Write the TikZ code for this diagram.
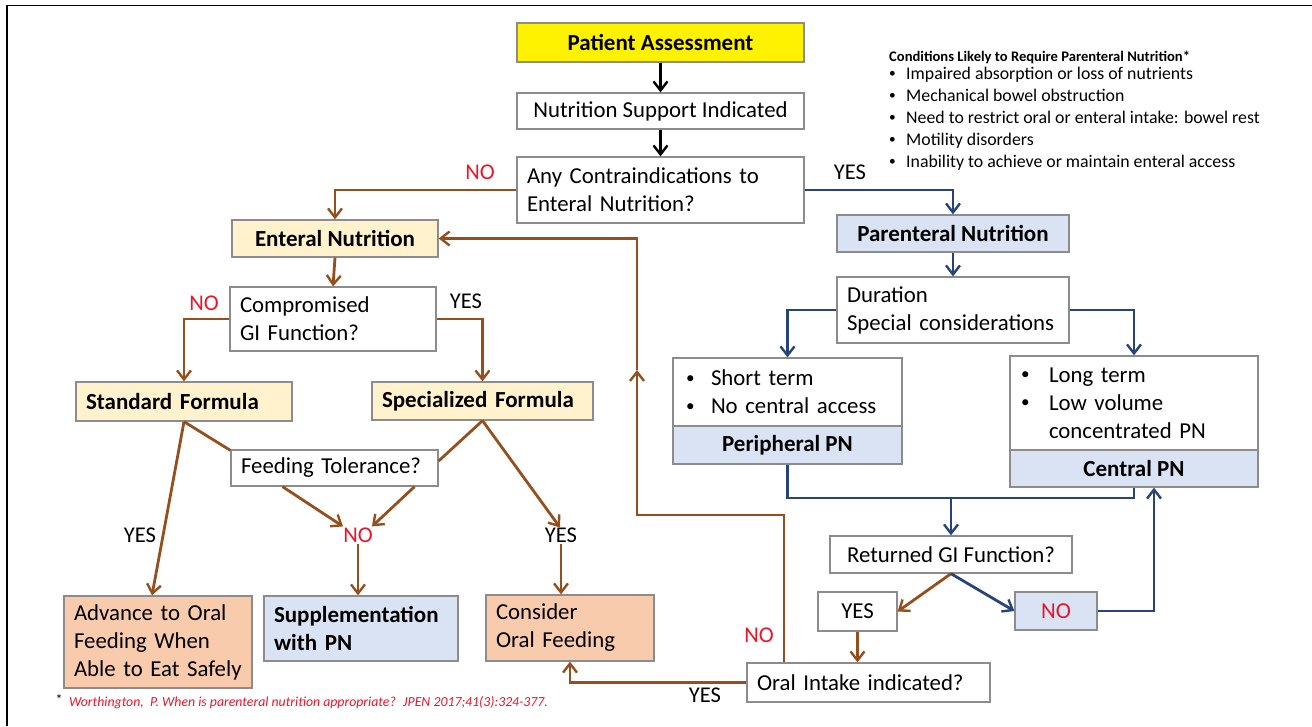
\documentclass[tikz,border=0pt]{standalone}
\usepackage{fontspec}
\setmainfont{Carlito}
\usetikzlibrary{arrows.meta}
\definecolor{brn}{RGB}{150,78,28}
\definecolor{nblue}{RGB}{38,68,122}
\definecolor{bgray}{RGB}{140,140,140}
\definecolor{pblue}{RGB}{218,227,243}
\definecolor{tanfill}{RGB}{255,242,204}
\definecolor{salmon}{RGB}{248,203,173}
\definecolor{nored}{RGB}{235,20,40}
\tikzset{
  box/.style={draw=bgray, line width=1.3pt, inner xsep=10pt, inner ysep=0pt,
    font=\fontsize{22.8}{28}\selectfont, text=black},
  bbox/.style={box, font=\fontsize{23}{28}\selectfont\bfseries},
  lbox/.style 2 args={minimum width=#1, minimum height=#2, text width=#1-20pt, align=left},
  cbox/.style 2 args={minimum width=#1, minimum height=#2, align=center},
  lab/.style={font=\fontsize{22.5}{24}\selectfont, inner sep=1pt},
  nolab/.style={lab, text=nored},
  conn/.style={line width=2.8pt, -{Straight Barb[length=9pt,width=14pt,line width=2.4pt]}},
  plain/.style={line width=2.8pt},
  bk/.style={conn, draw=black},
  br/.style={conn, draw=brn},
  bl/.style={conn, draw=nblue},
}
% small list bullet in a box of given width
\newcommand{\bul}[1]{\makebox[#1][l]{\raisebox{0.1em}{\scalebox{0.75}{\textbullet}}}}
\begin{document}
\begin{tikzpicture}[x=1pt,y=-1pt]
\useasboundingbox (0,0) rectangle (1312,726);
% page frame
\coordinate (fr1) at (7,726);
\coordinate (fr2) at (7,5.5);
\coordinate (fr3) at (1312,5.5);
\draw[line width=1.3pt] (fr1) -- (fr2) -- (fr3);

% main column
\node[bbox, cbox={287pt}{39pt}, fill=yellow] (pa) at (660.5,42.5) {Patient Assessment};
\node[box, cbox={287pt}{36pt}] (nsi) at (660.5,111) {Nutrition Support Indicated};
\node[box, lbox={287pt}{66pt}] (ci) at (660.5,190) {Any Contraindications to\\Enteral Nutrition?};

% enteral side
\node[bbox, cbox={206pt}{37pt}, fill=tanfill] (en) at (335,238.5) {Enteral Nutrition};
\node[box, lbox={206pt}{64pt}] (cgi) at (333,319) {Compromised\\GI Function?};
\node[bbox, lbox={216pt}{39pt}, fill=tanfill] (sf) at (184,401.5) {Standard Formula};
\node[bbox, lbox={221pt}{38pt}, fill=tanfill] (spf) at (482.5,401) {Specialized Formula};
\node[box, lbox={207pt}{36pt}] (ft) at (334.5,468) {Feeding Tolerance?};
\node[box, lbox={188pt}{92pt}, fill=salmon] (adv) at (158,642) {Advance to Oral\\Feeding When\\Able to Eat Safely};
\node[bbox, lbox={194pt}{65pt}, fill=pblue] (sup) at (361,628.5) {Supplementation\\with PN};
\node[box, lbox={168pt}{66pt}, fill=salmon] (cof) at (570,628) {Consider\\Oral Feeding};

% parenteral side
\node[bbox, cbox={232pt}{37pt}, fill=pblue] (pn) at (953,233.5) {Parenteral Nutrition};
\node[box, lbox={232pt}{66pt}] (dur) at (953,310) {Duration\\Special considerations};
\node[box, lbox={229pt}{68pt}, inner xsep=13pt, text width=203pt] (perT) at (787.5,392)
  {\bul{25pt}Short term\\\bul{25pt}No central access};
\node[bbox, cbox={229pt}{38pt}, fill=pblue] (perB) at (787.5,445) {Peripheral PN};
\node[box, lbox={248pt}{94pt}, inner xsep=11pt, text width=226pt] (cenT) at (1134,403)
  {\bul{28pt}Long term\\\bul{28pt}Low volume\\\hspace*{28pt}concentrated PN};
\node[bbox, cbox={248pt}{37pt}, fill=pblue] (cenB) at (1134,468.5) {Central PN};
\node[box, cbox={242pt}{37pt}] (rgi) at (951,554.5) {Returned GI Function?};
\node[box, cbox={79pt}{39pt}] (yb) at (857.5,611.5) {YES};
\node[box, cbox={82pt}{38pt}, fill=pblue, text=nored] (nb) at (1056,611) {NO};
\node[box, lbox={243pt}{39pt}] (oi) at (868.5,682.5) {Oral Intake indicated?};

% conditions list
\node[anchor=west, inner sep=0pt, font=\fontsize{14.6}{15}\selectfont\bfseries] (cond) at (889,57)
  {Conditions Likely to Require Parenteral Nutrition*};
\node[anchor=north west, inner sep=0pt, align=left, font=\fontsize{17.8}{22}\selectfont] (condlist) at (889,67)
  {\bul{17pt}Impaired absorption or loss of nutrients\\
   \bul{17pt}Mechanical bowel obstruction\\
   \bul{17pt}Need to restrict oral or enteral intake: bowel rest\\
   \bul{17pt}Motility disorders\\
   \bul{17pt}Inability to achieve or maintain enteral access};

% footnote
\node[inner sep=0pt, font=\fontsize{14}{14}\selectfont] (star) at (59,700) {*};
\node[anchor=west, inner sep=0pt, text=nored, font=\fontsize{13.8}{15}\selectfont\itshape] (ref) at (69,703)
  {Worthington, \ P. When is parenteral nutrition appropriate? \ JPEN 2017;41(3):324-377.};

% branch labels
\node[nolab] (l1) at (480,172) {NO};
\node[lab] (l2) at (850,172) {YES};
\node[nolab] (l3) at (204,303) {NO};
\node[lab] (l4) at (466,301) {YES};
\node[lab] (l5) at (140,535) {YES};
\node[nolab] (l6) at (358,535) {NO};
\node[lab] (l7) at (561,535) {YES};
\node[nolab] (l8) at (759,635) {NO};
\node[lab] (l9) at (705,695) {YES};

% top connectors
\draw[bk] (pa.south) -- (nsi.north);
\draw[bk] (nsi.south) -- (ci.north);
\draw[br] (ci.west) -| (en.north);
\draw[bl] (ci.east) -| (pn.north);

% enteral connectors
\draw[br] (en.south) -- (cgi.north);
\draw[br] (cgi.west) -| (sf.north);
\draw[br] (cgi.east) -| (spf.north);
\draw[br] (sf.south) -- ([xshift=-6pt]adv.north);
\draw[plain, brn] (sf.south) -- ([yshift=-1pt]ft.north west);
\draw[plain, brn] (spf.south) -- ([yshift=7pt]ft.east);
\draw[br] ([xshift=-52pt]ft.south) -- ([xshift=-15pt]l6.north);
\draw[br] ([xshift=80pt]ft.south) -- ([xshift=14pt]l6.north);
\draw[br] (l6.south) -- (l6.south |- sup.north);
\draw[br] (spf.south) -- ([xshift=-1pt,yshift=-1pt]l7.north);
\draw[br] (l7.south) -- (l7.south |- cof.north);

% parenteral connectors
\draw[bl] (pn.south) -- (dur.north);
\draw[bl] (dur.west) -| (perT.north);
\draw[bl] (dur.east) -| (cenT.north);
\coordinate (mj) at (951,498);
\draw[plain, nblue] (perB.south) |- (mj) -| (cenB.south);
\draw[bl] (mj) -- (rgi.north);
\draw[br] (rgi.south) -- (yb.east);
\draw[bl] (rgi.south) -- (nb.west);
\draw[bl] (nb.east) -| ([xshift=20pt]cenB.south);
\draw[br] (yb.south) -- (yb.south |- oi.north);

% return loops
\coordinate (lp1) at (784,515);
\coordinate (lp2) at (637,515);
\coordinate (lp3) at (637,370);
\draw[br] (oi.north -| lp1) -- (lp1) -- (lp2) -- (lp3);
\draw[br] (lp3) -- (lp3 |- en.east) -- (en.east);
\draw[br] (oi.west) -| (cof.south);
\end{tikzpicture}
\end{document}
